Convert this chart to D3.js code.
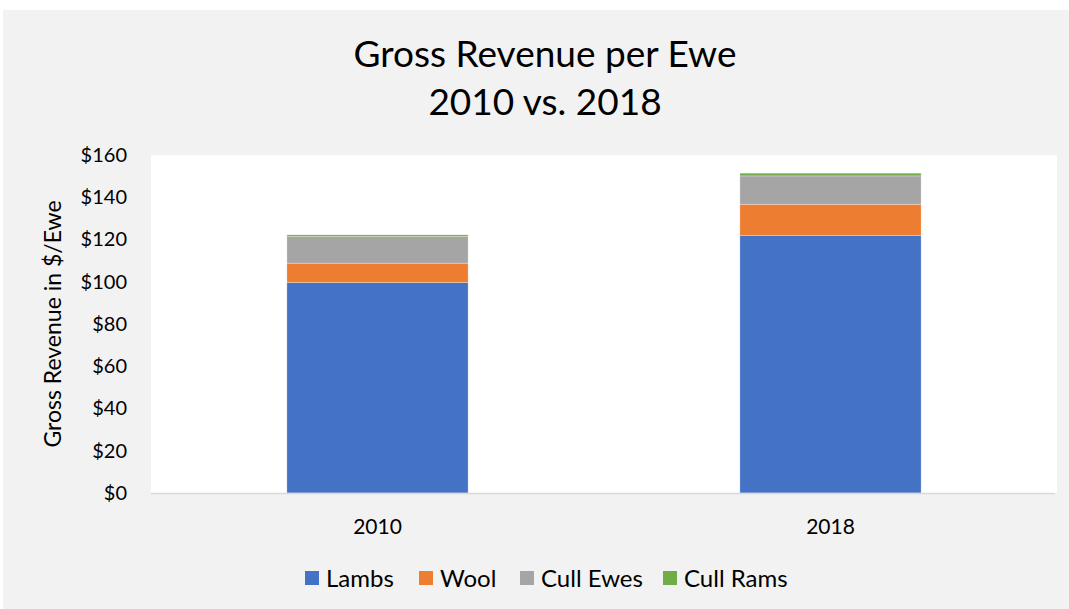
<!DOCTYPE html>
<html>
<head>
<meta charset="utf-8">
<script src="https://cdn.jsdelivr.net/npm/d3@7"></script>
<style>
  body { margin: 0; background: #fff; }
  text { font-family: "Lato", "Open Sans", sans-serif; fill: #000; }
</style>
</head>
<body>
<div id="chart"></div>
<script>
const years = ["2010", "2018"];
const seriesNames = ["Lambs", "Wool", "Cull Ewes", "Cull Rams"];
const lambs = [99.6, 122.0];
const wool = [9.2, 14.7];
const cullEwes = [12.6, 13.4];
const cullRams = [0.8, 1.3];
const yTicks = [0, 20, 40, 60, 80, 100, 120, 140, 160];

const w = 1069;
const h = 609;
const colors = ["#4472C4", "#ED7D31", "#A5A5A5", "#70AD47"];

// plot area
const plotLeft = 151, plotRight = 1057, plotTop = 155, plotBottom = 493;

const rows = years.map((y, i) => ({
  year: y,
  "Lambs": lambs[i],
  "Wool": wool[i],
  "Cull Ewes": cullEwes[i],
  "Cull Rams": cullRams[i]
}));

const svg = d3.select("#chart")
  .append("svg")
  .attr("width", w)
  .attr("height", h);

// chart background
svg.append("rect")
  .attr("x", 3).attr("y", 10)
  .attr("width", w - 3).attr("height", h - 10)
  .attr("fill", "#F2F2F2");

svg.append("rect")
  .attr("x", plotLeft).attr("y", plotTop)
  .attr("width", plotRight - plotLeft).attr("height", plotBottom - plotTop)
  .attr("fill", "#fff");

const xScale = d3.scaleBand()
  .domain(years)
  .range([plotLeft, plotRight])
  .paddingInner(0.6)
  .paddingOuter(0.3);

const yScale = d3.scaleLinear()
  .domain([0, 160])
  .range([plotBottom, plotTop]);

const stack = d3.stack().keys(seriesNames)(rows);

svg.append("g")
  .selectAll("g")
  .data(stack)
  .enter()
  .append("g")
  .attr("fill", (d, i) => colors[i])
  .selectAll("rect")
  .data(d => d)
  .enter()
  .append("rect")
  .attr("x", d => xScale(d.data.year))
  .attr("y", d => yScale(d[1]))
  .attr("width", xScale.bandwidth())
  .attr("height", d => yScale(d[0]) - yScale(d[1]))
  .attr("stroke", "#fff")
  .attr("stroke-opacity", 0.5)
  .attr("stroke-width", 0.6);

// x axis line
svg.append("line")
  .attr("x1", plotLeft).attr("x2", plotRight - 2)
  .attr("y1", plotBottom + 0.5).attr("y2", plotBottom + 0.5)
  .attr("stroke", "#D9D9D9")
  .attr("stroke-width", 1.5);

// y axis
const yAxis = d3.axisLeft(yScale)
  .tickValues(yTicks)
  .tickSize(0)
  .tickPadding(24)
  .tickFormat(d => "$" + d);

svg.append("g")
  .attr("transform", "translate(" + plotLeft + ",0)")
  .call(yAxis)
  .call(g => g.select(".domain").remove())
  .selectAll("text")
  .style("font-family", "Lato, 'Open Sans', sans-serif")
  .style("font-size", "20px")
  .attr("fill", "#000");

// x axis labels
const xAxis = d3.axisBottom(xScale).tickSize(0).tickPadding(26);
svg.append("g")
  .attr("transform", "translate(0," + plotBottom + ")")
  .call(xAxis)
  .call(g => g.select(".domain").remove())
  .selectAll("text")
  .style("font-family", "Lato, 'Open Sans', sans-serif")
  .style("font-size", "21px")
  .attr("fill", "#000");

// title
svg.append("text")
  .attr("x", 545).attr("y", 67)
  .attr("text-anchor", "middle")
  .style("font-size", "37px")
  .text("Gross Revenue per Ewe");
svg.append("text")
  .attr("x", 545).attr("y", 115)
  .attr("text-anchor", "middle")
  .style("font-size", "37px")
  .text("2010 vs. 2018");

// y axis title
svg.append("text")
  .attr("transform", "translate(61," + ((plotTop + plotBottom) / 2) + ") rotate(-90)")
  .attr("text-anchor", "middle")
  .style("font-size", "23px")
  .text("Gross Revenue in $/Ewe");

// legend
const legendX = [305, 419, 520, 663];
const legend = svg.append("g")
  .selectAll("g")
  .data(seriesNames)
  .enter()
  .append("g")
  .attr("transform", (d, i) => "translate(" + legendX[i] + ",571)");

legend.append("rect")
  .attr("width", 14).attr("height", 14)
  .attr("fill", (d, i) => colors[i]);

legend.append("text")
  .attr("x", 21).attr("y", 16)
  .style("font-size", "24px")
  .text(d => d);
</script>
</body>
</html>
